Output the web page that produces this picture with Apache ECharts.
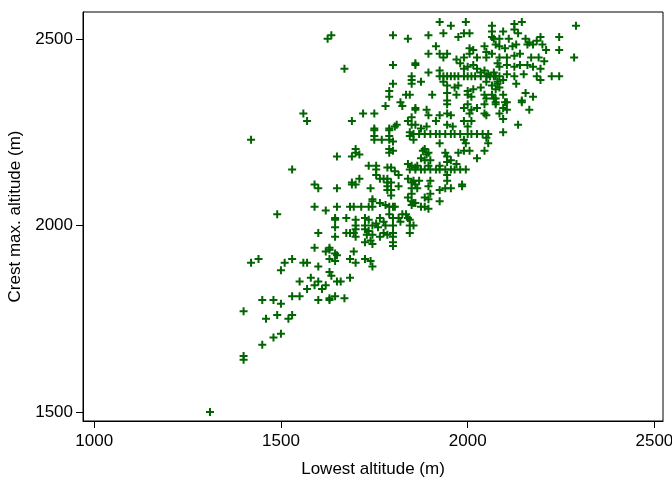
<!DOCTYPE html>
<html>
<head>
<meta charset="utf-8">
<script src="https://cdn.jsdelivr.net/npm/echarts@6/dist/echarts.min.js"></script>
<style>
html,body{margin:0;padding:0;background:#fff;}
#chart{width:672px;height:477px;}
</style>
</head>
<body>
<div id="chart"></div>
<script>
// [lowest altitude (m), crest max. altitude (m)] per observation
const altitudePairs = [
[1560,2300],[1570,2280],[1420,2230],[1530,2150],[1590,2110],[1600,2100],[1490,2030],[1590,2050],[1620,2040],[1600,1980],[1590,1940],[1620,1930],[1630,1940],[1420,1900],[1440,1910],[1510,1900],[1530,1910],[1500,1880],[1560,1900],[1570,1900],[1600,1890],[1630,1910],[1550,1850],[1580,1860],[1600,1850],[1590,1840],[1620,1840],[1570,1830],[1610,1830],[1450,1800],[1480,1800],[1500,1790],[1530,1810],[1550,1810],[1600,1800],[1630,1800],[1400,1770],[1460,1750],[1490,1760],[1520,1750],[1530,1760],[1480,1700],[1500,1710],[1450,1680],[1400,1650],[1400,1640],[1310,1500],
[1625,2500],[1635,2510],[1670,2420],
[1800,2510],[1840,2500],[1800,2430],[1860,2430],[1850,2400],[1850,2390],[1850,2380],[1800,2380],[1790,2360],[1790,2345],[1780,2320],[1820,2330],[1825,2320],[1835,2350],[1845,2350],[1860,2310],[1720,2300],[1750,2300],[1690,2280],[1810,2270],[1840,2280],[1850,2290],[1850,2270],[1860,2270],[1750,2260],[1790,2260],
[1750,2255],[1750,2240],[1750,2230],[1790,2255],[1790,2240],[1805,2265],[1770,2230],[1790,2230],[1800,2225],[1845,2250],[1845,2240],[1855,2230],[1700,2205],[1700,2195],[1710,2190],[1690,2185],[1650,2185],[1790,2205],[1790,2195],[1800,2200],[1735,2160],[1755,2160],[1755,2150],[1755,2135],[1765,2125],[1775,2125],[1785,2155],[1795,2155],[1805,2145],[1815,2135],[1785,2125],[1785,2115],[1795,2115],[1785,2105],[1785,2095],[1795,2095],[1795,2080],[1815,2105],[1840,2165],[1850,2160],[1860,2155],[1845,2150],[1840,2125],[1850,2115],[1860,2110],[1870,2120],[1850,2100],[1850,2085],[1840,2075],[1850,2065],[1850,2055],[1860,2060],[1650,2100],[1690,2115],[1690,2110],[1700,2110],[1710,2125],[1740,2100],[1650,2050],[1685,2050],[1695,2050],[1715,2050],[1735,2050],[1745,2050],[1745,2065],[1745,2070],[1765,2060],[1780,2055],[1790,2050],[1800,2050],[1805,2050],[1790,2030],[1800,2020],[1820,2010],[1835,2030],[1645,2020],[1645,2015],[1675,2020],[1700,2015],[1700,2000],[1700,1990],[1725,2020],[1735,2015],[1725,2000],[1745,2000],[1755,2005],[1760,1995],[1765,2020],[1775,2010],[1780,2000],[1800,2000],[1800,1980],[1800,1970],[1800,1955],[1800,1945],[1815,2020],[1825,2030],[1840,2020],[1845,2015],[1845,2000],[1845,1980],[1645,1995],[1645,1970],[1675,1980],[1685,1980],[1695,1980],[1700,1970],[1725,1990],[1735,1985],[1745,1975],[1730,1975],[1765,1970],[1775,1980],[1785,1975],[1725,1955],[1740,1960],[1745,1950],[1630,1935],[1645,1925],[1650,1920],[1645,1905],[1695,1930],[1685,1910],[1700,1900],[1725,1910],[1740,1905],[1745,1890],[1630,1875],[1635,1865],[1650,1850],[1660,1850],[1685,1860],[1630,1805],[1645,1810],[1670,1805],
[1925,2545],[1955,2535],[1995,2545],[1895,2510],[1935,2515],[1975,2505],[1990,2515],[2005,2515],[2065,2535],[2065,2520],[2065,2505],[1915,2480],[1895,2460],[1925,2460],[1935,2450],[1945,2460],[2005,2475],[2005,2460],[1990,2450],[1970,2445],[1980,2435],[2015,2470],[2025,2450],[2045,2480],[2050,2465],[2050,2450],[2065,2460],[2075,2485],[2080,2435],[1860,2435],[1895,2410],[1875,2385],[1925,2415],
[1925,2400],[1935,2400],[1945,2400],[1955,2400],[1965,2400],[1975,2400],[1990,2400],[2000,2400],[2010,2400],[2020,2400],[2035,2400],[2050,2400],[2060,2400],[2075,2400],
[1990,2420],[2000,2425],[2015,2430],[2025,2420],[2035,2410],[2045,2415],[2055,2405],[2070,2410],[1935,2385],[1945,2375],[1965,2370],[1975,2375],[2000,2360],[2015,2365],[2035,2370],[2050,2385],[2065,2375],[2075,2365],[1905,2350],[1945,2355],[1945,2335],[1970,2350],[2000,2350],[2010,2345],[2045,2350],[2050,2340],[2065,2350],[2075,2340],[2080,2385],
[1860,2315],[1890,2310],[1895,2295],[1925,2295],[1945,2325],[1945,2300],[1955,2295],[1990,2315],[2000,2325],[2005,2300],[2010,2310],[2025,2315],[2045,2325],[2045,2300],[2050,2295],[2075,2325],
[1855,2245],[1870,2245],[1885,2245],[1900,2245],[1915,2245],[1925,2245],[1940,2245],[1955,2245],[1965,2245],[1980,2245],[2000,2245],[2010,2245],[2025,2245],[2040,2245],[2055,2245],
[1875,2260],[1890,2265],[1915,2280],[1945,2270],[1960,2265],[1990,2280],[2000,2265],[2010,2280],[2050,2235],[1925,2220],[1990,2230],[1995,2220],[1990,2200],[2005,2200],[1975,2195],[2045,2200],[2055,2220],[1880,2200],[1885,2205],[1895,2195],[1890,2190],[1875,2180],[1885,2175],[1900,2175],[1940,2195],[1945,2185],[1945,2170],[1955,2175],[1970,2165],[2025,2180],
[1860,2150],[1875,2150],[1885,2150],[1900,2150],[1915,2150],[1925,2150],[1940,2150],[1955,2150],[1965,2150],[1980,2150],[1995,2150],
[1865,2160],[1895,2160],[1925,2160],[1945,2135],[1945,2120],[1900,2120],[1985,2110],[1855,2120],
[1865,2100],[1895,2105],[1900,2085],[1925,2095],[1940,2100],[1955,2100],[1985,2105],[1885,2075],[1895,2070],[1925,2065],[1875,2050],[1885,2050],[1895,2045],[1855,2060],[1855,2000],
[2125,2540],[2145,2545],[2290,2535],[2095,2520],[2125,2525],[2135,2515],[2070,2500],[2085,2500],[2110,2500],[2155,2500],[2165,2490],[2185,2495],[2195,2505],[2245,2505],[2085,2480],[2100,2475],[2120,2480],[2130,2485],[2160,2485],[2175,2485],[2200,2485],[2210,2470],[2245,2470],[2285,2450],[2085,2450],[2105,2450],[2125,2455],[2140,2460],[2170,2450],[2190,2450],[2205,2440],[2085,2425],[2105,2430],[2125,2425],[2140,2430],[2160,2430],[2175,2425],[2195,2420],[2070,2400],[2085,2400],[2105,2405],[2125,2400],[2150,2405],[2185,2400],[2195,2390],[2225,2400],[2245,2400],[2080,2380],[2095,2390],[2130,2380],[2085,2370],[2155,2355],[2175,2345],[2095,2350],[2145,2335],[2105,2330],[2070,2340],
[2075,2330],[2100,2330],[2145,2330],[2095,2315],[2105,2310],[2085,2300],[2095,2285],[2165,2310],[2135,2270],[2095,2250]
];
const xTicks = [1000, 1500, 2000, 2500];
const yTicks = [1500, 2000, 2500];
const xTitle = 'Lowest altitude (m)';
const yTitle = 'Crest max. altitude (m)';

const FONT = "'Liberation Sans', Arial, Helvetica, sans-serif";
const chart = echarts.init(document.getElementById('chart'), null, {renderer: 'canvas'});
chart.setOption({
  animation: false,
  backgroundColor: '#ffffff',
  grid: {left: 83, right: 9, top: 12, bottom: 56, outerBoundsMode: 'none', containLabel: false,
    show: true, borderColor: '#000', borderWidth: 1, backgroundColor: '#fff'},
  xAxis: {
    type: 'value', min: 970, max: 2523,
    name: xTitle, nameLocation: 'middle', nameGap: 40,
    nameTextStyle: {fontFamily: FONT, fontSize: 17, color: '#000'},
    axisLine: {show: true, lineStyle: {color: '#000', width: 1}},
    axisTick: {show: true, length: 7, lineStyle: {color: '#000'}, customValues: xTicks},
    axisLabel: {color: '#000', fontFamily: FONT, fontSize: 17, margin: 12, customValues: xTicks,
      hideOverlap: false, formatter: v => String(v)},
    splitLine: {show: false}
  },
  yAxis: {
    type: 'value', min: 1476, max: 2572,
    name: yTitle, nameLocation: 'middle', nameGap: 57, nameRotate: 90,
    nameTextStyle: {fontFamily: FONT, fontSize: 17, color: '#000'},
    axisLine: {show: true, lineStyle: {color: '#000', width: 1}},
    axisTick: {show: true, length: 7, lineStyle: {color: '#000'}, customValues: yTicks},
    axisLabel: {color: '#000', fontFamily: FONT, fontSize: 17, margin: 10, customValues: yTicks,
      formatter: v => String(v)},
    splitLine: {show: false}
  },
  series: [{
    type: 'scatter',
    data: altitudePairs,
    symbol: 'path://M3.75,0H6.25V3.75H10V6.25H6.25V10H3.75V6.25H0V3.75H3.75Z',
    symbolSize: 8,
    itemStyle: {color: '#006400', opacity: 1},
    silent: true
  }]
});
</script>
</body>
</html>
